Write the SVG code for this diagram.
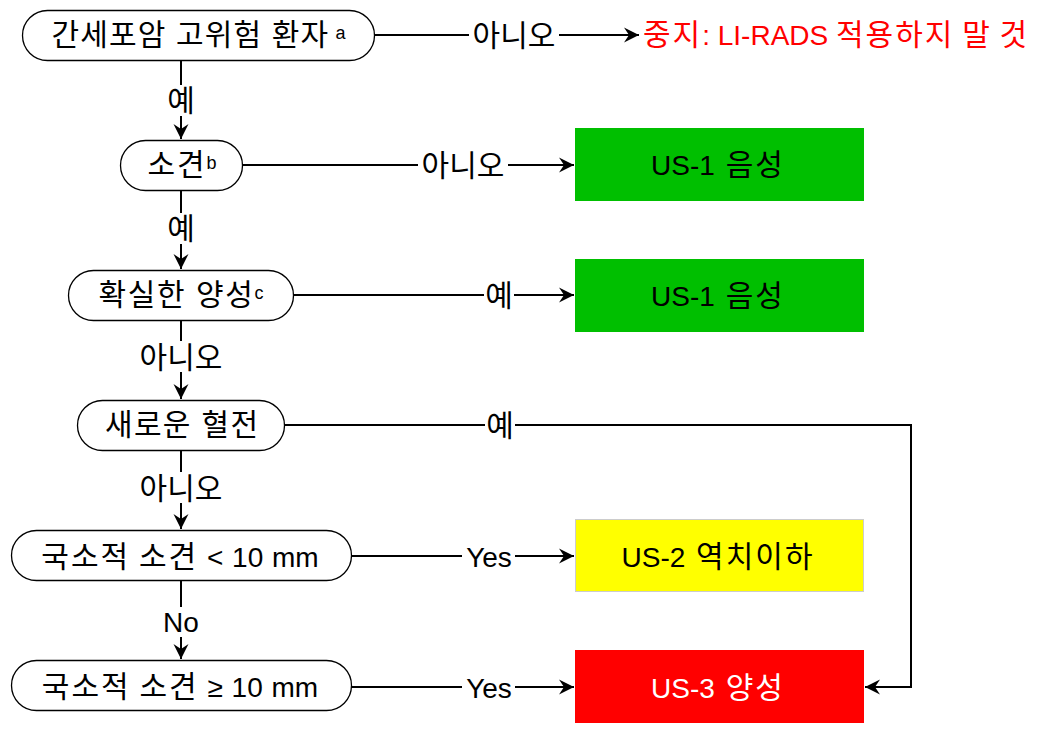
<svg xmlns="http://www.w3.org/2000/svg" width="1045" height="731" viewBox="0 0 1045 731">
<style>
text{font-family:"Liberation Sans","Noto Sans CJK KR",sans-serif;font-size:28px;fill:#000}
.k{font-size:30px;letter-spacing:2px}
.pill{fill:#fff;stroke:#000;stroke-width:1.3}
.t{text-anchor:middle}
.h{font-size:30px}
.bx{word-spacing:3px}
.sup{font-size:18px;letter-spacing:0}
.lbl{text-anchor:middle;font-size:28px}
.kl{text-anchor:middle;font-size:30px}
.edge{fill:none;stroke:#000;stroke-width:2}
.bg{fill:#fff}
</style>
<defs>
<marker id="arr" markerUnits="userSpaceOnUse" markerWidth="17" markerHeight="17" viewBox="-16 -8.5 17 17" refX="0" refY="0" orient="auto">
<path d="M0,0 L-15,-7.5 L-10,0 L-15,7.5 Z" fill="#000"/>
</marker>
</defs>
<g id="connectors">
<path class="edge" d="M181,60 V139" marker-end="url(#arr)"/>
<path class="edge" d="M181,190 V269" marker-end="url(#arr)"/>
<path class="edge" d="M181,320 V399" marker-end="url(#arr)"/>
<path class="edge" d="M181,450 V529" marker-end="url(#arr)"/>
<path class="edge" d="M181,581 V659" marker-end="url(#arr)"/>
<path class="edge" d="M375,35 H639" marker-end="url(#arr)"/>
<path class="edge" d="M243,165 H574" marker-end="url(#arr)"/>
<path class="edge" d="M294,295 H574" marker-end="url(#arr)"/>
<path class="edge" d="M285,425 H911 V687 H865" marker-end="url(#arr)"/>
<path class="edge" d="M352,556 H574" marker-end="url(#arr)"/>
<path class="edge" d="M352,687 H574" marker-end="url(#arr)"/>
<rect class="bg" x="166" y="85" width="30" height="31"/>
<text class="kl" x="181" y="111">예</text>
<rect class="bg" x="166" y="213" width="30" height="31"/>
<text class="kl" x="181" y="239">예</text>
<rect class="bg" x="136" y="341" width="90" height="31"/>
<text class="kl" x="181" y="368">아니오</text>
<rect class="bg" x="136" y="472" width="90" height="31"/>
<text class="kl" x="181" y="499">아니오</text>
<rect class="bg" x="161" y="607" width="40" height="30"/>
<text class="lbl" x="181" y="632">No</text>
<rect class="bg" x="469" y="19" width="90" height="31"/>
<text class="kl" x="514" y="46">아니오</text>
<rect class="bg" x="418" y="149" width="90" height="31"/>
<text class="kl" x="463" y="176">아니오</text>
<rect class="bg" x="484" y="279" width="30" height="31"/>
<text class="kl" x="499" y="306">예</text>
<rect class="bg" x="485" y="409" width="30" height="31"/>
<text class="kl" x="500" y="436">예</text>
<rect class="bg" x="462" y="541" width="53" height="30"/>
<text class="lbl" x="489" y="567">Yes</text>
<rect class="bg" x="462" y="672" width="53" height="30"/>
<text class="lbl" x="489" y="698">Yes</text>
</g>
<g id="n1">
<rect class="pill" x="22.5" y="10.5" width="352" height="50" rx="25"/>
<text class="t h" x="198.5" y="45" textLength="294">간세포암 고위험 환자<tspan class="sup" dy="-6"> a</tspan></text>
</g>
<g id="n-stop">
<text x="643" y="45" style="fill:#ff0000"><tspan class="k">중지</tspan>: LI-RADS <tspan class="k">적용하지</tspan> <tspan class="k">말</tspan> <tspan class="k">것</tspan></text>
</g>
<g id="n2">
<rect class="pill" x="120.5" y="140.5" width="122" height="50" rx="25"/>
<text class="t k" x="182" y="175">소견<tspan class="sup" dy="-6">b</tspan></text>
</g>
<g id="n3">
<rect class="pill" x="68.5" y="270.5" width="225" height="50" rx="25"/>
<text class="t h" x="181" y="305" textLength="165">확실한 양성<tspan class="sup" dy="-6">c</tspan></text>
</g>
<g id="n4">
<rect class="pill" x="77.5" y="400.5" width="207" height="50" rx="25"/>
<text class="t h" x="181.5" y="435" textLength="153">새로운 혈전</text>
</g>
<g id="n5">
<rect class="pill" x="11.5" y="530.5" width="340" height="50" rx="25"/>
<text class="t" x="180" y="567" style="word-spacing:1px"><tspan class="k">국소적</tspan> <tspan class="k">소견</tspan> &lt; 10 mm</text>
</g>
<g id="n6">
<rect class="pill" x="11.5" y="660.5" width="340" height="50" rx="25"/>
<text class="t" x="180" y="697" style="word-spacing:1px"><tspan class="k">국소적</tspan> <tspan class="k">소견</tspan> ≥ 10 mm</text>
</g>
<g id="g1">
<rect x="575" y="128" width="289" height="73" fill="#00bf00"/>
<text class="t bx" x="718" y="175">US-1 <tspan class="k">음성</tspan></text>
</g>
<g id="g2">
<rect x="575" y="259" width="289" height="73" fill="#00bf00"/>
<text class="t bx" x="718" y="306">US-1 <tspan class="k">음성</tspan></text>
</g>
<g id="y1">
<rect x="575.5" y="519.5" width="288" height="72" fill="#ffff00" stroke="#cccccc"/>
<text class="t bx" x="718" y="567">US-2 <tspan class="k">역치이하</tspan></text>
</g>
<g id="r1">
<rect x="575" y="650" width="289" height="73" fill="#ff0000"/>
<text class="t bx" x="718" y="698" style="fill:#fff">US-3 <tspan class="k">양성</tspan></text>
</g>
</svg>
